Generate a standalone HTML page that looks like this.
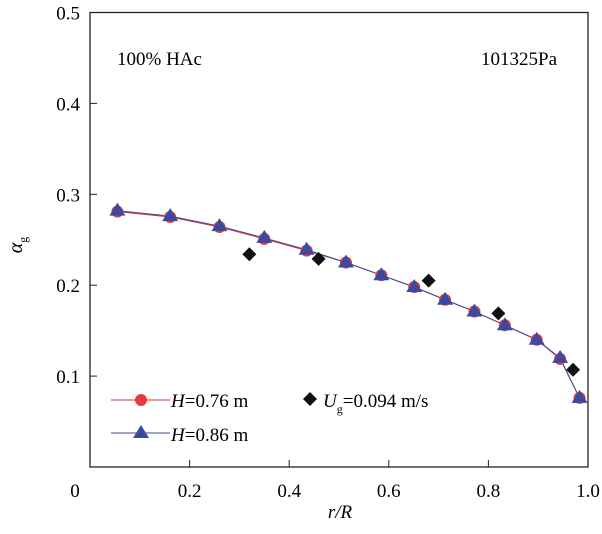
<!DOCTYPE html>
<html><head><meta charset="utf-8"><style>
body{margin:0;background:#fff}
svg, svg text{font-family:"Liberation Serif","DejaVu Serif",serif}
</style></head><body>
<svg id="chart" width="602" height="529" font-family="Liberation Serif, serif">
<rect x="90" y="12.5" width="498" height="454.5" fill="none" stroke="#222" stroke-width="1.3"/>
<g id="axes"></g>
<g id="series"></g>
<text x="117" y="65" font-size="19">100% HAc</text>
<text x="557" y="65" font-size="19" text-anchor="end">101325Pa</text>
<text x="340" y="518" font-size="19" text-anchor="middle" font-style="italic">r/R</text>
<g transform="translate(22,245) rotate(-90)"><text font-size="20" font-style="italic" text-anchor="middle">α<tspan font-size="12" font-style="normal" dy="5">g</tspan></text></g>
<g>
<line x1="111" y1="400" x2="170" y2="400" stroke="#e03030" stroke-width="1"/>
<circle cx="141" cy="400" r="6" fill="#e83a3a"/>
<text x="171" y="407" font-size="19"><tspan font-style="italic">H</tspan>=0.76 m</text>
<line x1="111" y1="433" x2="170" y2="433" stroke="#3a4a9a" stroke-width="1"/>
<polygon points="141,425 149,438 133,438" fill="#3a4aa0"/>
<text x="171" y="441" font-size="19"><tspan font-style="italic">H</tspan>=0.86 m</text>
<polygon points="310,392 317,399 310,406 303,399" fill="#111"/>
<text x="323" y="407" font-size="19"><tspan font-style="italic">U</tspan><tspan font-size="12" dy="6">g</tspan><tspan dy="-6">=0.094 m/s</tspan></text>
</g>
</svg>
<script>
const xTicks=[0.2,0.4,0.6,0.8,1.0];
const xTickLabels=["0.2","0.4","0.6","0.8","1.0"];
const yTicks=[0.1,0.2,0.3,0.4,0.5];
const yTickLabels=["0.1","0.2","0.3","0.4","0.5"];
const rPos=[0.055,0.161,0.26,0.35,0.435,0.514,0.585,0.651,0.713,0.772,0.833,0.897,0.944,0.983];
const h076=[0.281,0.275,0.264,0.251,0.238,0.225,0.211,0.198,0.184,0.171,0.156,0.140,0.119,0.076];
const h086=[0.282,0.276,0.265,0.252,0.239,0.225,0.211,0.198,0.184,0.171,0.156,0.140,0.120,0.076];
const ugR=[0.32,0.459,0.68,0.82,0.97];
const ugVal=[0.234,0.229,0.205,0.169,0.107];
const NS="http://www.w3.org/2000/svg";
const X=v=>90+v*498, Y=v=>467-v*909;
function mk(t,a,p){const e=document.createElementNS(NS,t);for(const k in a)e.setAttribute(k,a[k]);p.appendChild(e);return e;}
const ax=document.getElementById('axes'), se=document.getElementById('series');
xTicks.forEach((v,i)=>{
 const l=mk('line',{x1:X(v),x2:X(v),y1:467,y2:460,stroke:'#222'},ax);
 
 
 const t=mk('text',{x:X(v),y:497,'font-size':19,'text-anchor':'middle'},ax);t.textContent=xTickLabels[i];
 
 
});
const z=mk('text',{x:75,y:497,'font-size':19,'text-anchor':'middle'},ax);z.textContent="0";


yTicks.forEach((v,i)=>{
 const l=mk('line',{x1:90,x2:97,y1:Y(v),y2:Y(v),stroke:'#222'},ax);
 
 
 const t=mk('text',{x:80,y:Y(v)+7,'font-size':19,'text-anchor':'end'},ax);t.textContent=yTickLabels[i];
 
 
});
const pr=mk('polyline',{points:rPos.map((r,i)=>X(r)+','+Y(h076[i])).join(' '),fill:'none',stroke:'#e03030','stroke-width':1},se);


const pb=mk('polyline',{points:rPos.map((r,i)=>X(r)+','+Y(h086[i])).join(' '),fill:'none',stroke:'#3a4a9a','stroke-width':1},se);


rPos.forEach((r,i)=>{
 const c=mk('circle',{cx:X(r),cy:Y(h076[i]),r:6,fill:'#e83a3a'},se);
 
 
});
rPos.forEach((r,i)=>{
 const x=X(r),y=Y(h086[i]);
 const p=mk('polygon',{points:`${x},${y-8} ${x+8},${y+5} ${x-8},${y+5}`,fill:'#3a4aa0'},se);
 
 
});
ugR.forEach((r,i)=>{
 const x=X(r),y=Y(ugVal[i]);
 const p=mk('polygon',{points:`${x},${y-7} ${x+7},${y} ${x},${y+7} ${x-7},${y}`,fill:'#111'},se);
 
 
});
</script>
</body></html>
